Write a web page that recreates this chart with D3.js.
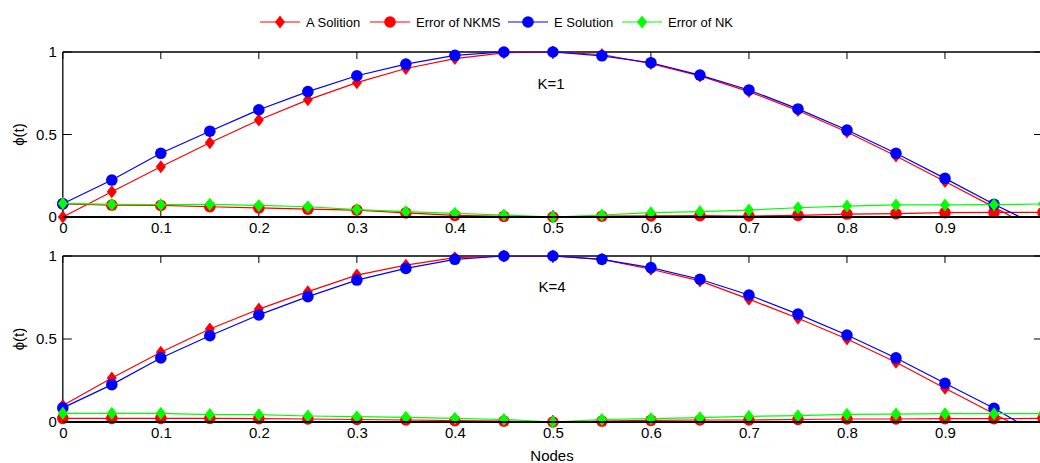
<!DOCTYPE html>
<html><head><meta charset="utf-8">
<script src="https://cdn.jsdelivr.net/npm/d3@7"></script>
<style>body{margin:0;background:#fff}svg{display:block;font-family:"Liberation Sans",Arial,sans-serif}</style>
</head><body><svg id="c" width="1040" height="463"></svg>
<script>
const nodes = [0,0.05,0.1,0.15,0.2,0.25,0.3,0.35,0.4,0.45,0.5,0.55,0.6,0.65,0.7,0.75,0.8,0.85,0.9,0.95,1.0];
const seriesNames = ["A Solition","Error of NKMS","E Solution","Error of NK"];
const xTicks = [0,0.1,0.2,0.3,0.4,0.5,0.6,0.7,0.8,0.9,1];
const yTicks = [0,0.5,1];
const panelLabels = ["K=1","K=4"];
// K=1
const aSol1   = [0,0.153,0.305,0.45,0.588,0.71,0.814,0.9,0.96,0.995,1.0,0.985,0.93,0.855,0.76,0.645,0.515,0.37,0.215,0.06,-0.1];
const errNKMS1= [0.08,0.072,0.07,0.062,0.055,0.048,0.042,0.025,0.01,0.004,0,0.005,0.007,0.008,0.006,0.01,0.018,0.02,0.026,0.028,0.028];
const eSol1   = [0.08,0.224,0.386,0.52,0.65,0.76,0.856,0.927,0.98,1.0,1.0,0.977,0.935,0.86,0.77,0.655,0.527,0.386,0.234,0.077,-0.068];
const errNK1  = [0.082,0.076,0.075,0.077,0.07,0.062,0.045,0.032,0.022,0.012,0,0.012,0.026,0.032,0.042,0.056,0.066,0.073,0.073,0.075,0.079];
// K=4
const aSol4   = [0.1,0.265,0.42,0.56,0.68,0.785,0.885,0.945,0.99,1.0,1.0,0.98,0.92,0.85,0.74,0.625,0.5,0.36,0.203,0.05,-0.105];
const errNKMS4= [0.022,0.022,0.022,0.022,0.02,0.018,0.015,0.012,0.008,0.005,0,0.005,0.01,0.012,0.012,0.015,0.018,0.018,0.02,0.02,0.022];
const eSol4   = [0.085,0.225,0.386,0.52,0.645,0.755,0.855,0.925,0.98,1.0,1.0,0.98,0.93,0.86,0.765,0.65,0.524,0.386,0.233,0.083,-0.09];
const errNK4  = [0.052,0.052,0.052,0.045,0.044,0.036,0.032,0.028,0.022,0.015,0,0.015,0.02,0.026,0.034,0.038,0.046,0.048,0.05,0.05,0.05];

const colors = ["#ff0000","#ff0000","#0000ff","#00ff00"];
const markers = ["diamond","circle","circle","diamond"];
const panels = [
  {top:52,bottom:217,label:panelLabels[0],series:[aSol1,errNKMS1,eSol1,errNK1],lx:551,ly:83},
  {top:256,bottom:422,label:panelLabels[1],series:[aSol4,errNKMS4,eSol4,errNK4],lx:552,ly:286}
];
const FS = 15;
const svg = d3.select("#c");
const x = d3.scaleLinear().domain([0,1]).range([62.8,1043]);
const diamond = d3.symbol().type({draw(ctx,size){ctx.moveTo(0,-6.5);ctx.lineTo(5,0);ctx.lineTo(0,6.5);ctx.lineTo(-5,0);ctx.closePath();}}).size(1);

function drawMarker(g,type,color,cx,cy){
  if(type==="circle") g.append("circle").attr("cx",cx).attr("cy",cy).attr("r",5.8).attr("fill",color);
  else g.append("path").attr("d",diamond()).attr("transform",`translate(${cx},${cy})`).attr("fill",color);
}

panels.forEach((p,pi)=>{
  const y = d3.scaleLinear().domain([0,1]).range([p.bottom,p.top]);
  const g = svg.append("g");
  const clipId = "clip"+pi;
  svg.append("defs").append("clipPath").attr("id",clipId).append("rect")
    .attr("x",x(0)).attr("y",p.top).attr("width",x(1)-x(0)).attr("height",p.bottom-p.top);
  g.append("line").attr("x1",x(0)).attr("x2",x(1)).attr("y1",p.top).attr("y2",p.top).attr("stroke","#000").attr("stroke-width",1.3);
  g.append("line").attr("x1",x(0)).attr("x2",x(0)).attr("y1",p.top).attr("y2",p.bottom).attr("stroke","#000").attr("stroke-width",1.3);
  g.append("line").attr("x1",x(1)).attr("x2",x(1)).attr("y1",p.top).attr("y2",p.bottom).attr("stroke","#000").attr("stroke-width",1.3);
  xTicks.forEach(t=>{
    g.append("line").attr("x1",x(t)).attr("x2",x(t)).attr("y1",p.top).attr("y2",p.top+7).attr("stroke","#000").attr("stroke-width",1);
    g.append("line").attr("x1",x(t)).attr("x2",x(t)).attr("y1",p.bottom).attr("y2",p.bottom-7).attr("stroke","#000").attr("stroke-width",1);
  });
  yTicks.forEach(t=>{
    g.append("line").attr("x1",x(0)).attr("x2",x(0)+9).attr("y1",y(t)).attr("y2",y(t)).attr("stroke","#000").attr("stroke-width",1);
    g.append("line").attr("x1",x(1)).attr("x2",x(1)-9).attr("y1",y(t)).attr("y2",y(t)).attr("stroke","#000").attr("stroke-width",1);
  });
  const xa = d3.axisBottom(x).tickValues(xTicks).tickSize(0).tickPadding(5).tickFormat(d=>d3.format("")(d));
  const xg = g.append("g").attr("transform",`translate(0,${p.bottom})`).call(xa);
  xg.select(".domain").remove();
  xg.selectAll("text").attr("font-size",FS).attr("fill","#000").attr("font-family","Liberation Sans, Arial, sans-serif").attr("dy","0.71em");
  const ya = d3.axisLeft(y).tickValues(yTicks).tickSize(0).tickPadding(6).tickFormat(d=>d3.format("")(d));
  const yg = g.append("g").attr("transform",`translate(${x(0)},0)`).call(ya);
  yg.select(".domain").remove();
  yg.selectAll("text").attr("font-size",FS).attr("fill","#000").attr("font-family","Liberation Sans, Arial, sans-serif");
  p.series.forEach((vals,si)=>{
    const pts = nodes.map((n,i)=>[n,vals[i]]);
    g.append("path").attr("clip-path",`url(#${clipId})`).attr("d",d3.line().x(d=>x(d[0])).y(d=>y(d[1]))(pts))
      .attr("fill","none").attr("stroke",colors[si]).attr("stroke-width",1.2);
    pts.forEach(d=>{ if(d[1]>=0 && d[1]<=1) drawMarker(g,markers[si],colors[si],x(d[0]),y(d[1])); });
  });
  g.append("line").attr("x1",x(0)).attr("x2",x(1)).attr("y1",p.bottom).attr("y2",p.bottom).attr("stroke","#000").attr("stroke-width",2);
  g.append("text").attr("x",p.lx).attr("y",p.ly).attr("text-anchor","middle").attr("dominant-baseline","central").attr("font-size",FS).text(p.label);
  g.append("text").attr("transform",`translate(18,${(p.top+p.bottom)/2}) rotate(-90)`).attr("text-anchor","middle")
    .attr("dominant-baseline","central").attr("font-size",FS).text("\u03d5(t)");
});
svg.append("text").attr("x",552).attr("y",455).attr("text-anchor","middle").attr("dominant-baseline","central").attr("font-size",FS).text("Nodes");

const legX = [260,370,508,622];
const lg = svg.append("g");
seriesNames.forEach((nm,i)=>{
  const lx = legX[i], ly = 22;
  lg.append("line").attr("x1",lx).attr("x2",lx+40).attr("y1",ly).attr("y2",ly).attr("stroke",colors[i]).attr("stroke-width",1.2);
  drawMarker(lg,markers[i],colors[i],lx+20,ly);
  lg.append("text").attr("x",lx+46).attr("y",ly).attr("dominant-baseline","central").attr("font-size",13).text(nm);
});
</script></body></html>
